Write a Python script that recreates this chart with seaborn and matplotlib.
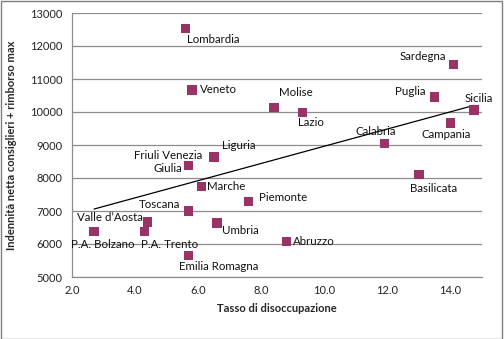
import matplotlib
matplotlib.use("Agg")
import matplotlib.pyplot as plt
import seaborn as sns
import pandas as pd
import numpy as np

regions = ["Lombardia", "Veneto", "Molise", "Lazio", "Sardegna", "Puglia", "Sicilia",
           "Campania", "Calabria", "Basilicata", "Liguria", "Friuli Venezia\nGiulia",
           "Marche", "Piemonte", "Toscana", "Valle d\u2019Aosta", "Umbria",
           "P.A. Bolzano", "P.A. Trento", "Emilia Romagna", "Abruzzo"]
disoccupazione = [5.6, 5.8, 8.4, 9.3, 14.1, 13.5, 14.75,
                  14.0, 11.9, 13.0, 6.5, 5.7,
                  6.1, 7.6, 5.7, 4.4, 6.6,
                  2.7, 4.3, 5.7, 8.8]
indennita = [12530, 10670, 10140, 9990, 11430, 10450, 10060,
             9670, 9050, 8115, 8640, 8370,
             7750, 7285, 7000, 6665, 6635,
             6380, 6380, 5660, 6080]
x_ticks = [2.0, 4.0, 6.0, 8.0, 10.0, 12.0, 14.0]
y_ticks = [5000, 6000, 7000, 8000, 9000, 10000, 11000, 12000, 13000]

# label offsets in pixels (dx, dy up), alignment
label_style = {
    "Lombardia": (1, -11, "left"),
    "Veneto": (8, 0, "left"),
    "Molise": (5, 15, "left"),
    "Lazio": (-4, -10, "left"),
    "Sardegna": (-8, 8, "right"),
    "Puglia": (-9, 6, "right"),
    "Sicilia": (-10, 12, "left"),
    "Campania": (-4, -12, "center"),
    "Calabria": (-8, 12, "center"),
    "Basilicata": (-9, -14, "left"),
    "Liguria": (8, 11, "left"),
    "Friuli Venezia\nGiulia": (-21, 4, "center"),
    "Marche": (6, 0, "left"),
    "Piemonte": (10, 4, "left"),
    "Toscana": (-9, 7, "right"),
    "Valle d\u2019Aosta": (-5, 5, "right"),
    "Umbria": (5, -7, "left"),
    "P.A. Bolzano": (9, -13, "center"),
    "P.A. Trento": (-4, -13, "left"),
    "Emilia Romagna": (-10, -11, "left"),
    "Abruzzo": (7, 0, "left"),
}

df = pd.DataFrame({"region": regions, "x": disoccupazione, "y": indennita})

sns.set_theme(style="white")
plt.rcParams["font.family"] = ["Lato", "DejaVu Sans"]

W, H = 504, 339
fig = plt.figure(figsize=(W / 100, H / 100), dpi=100)
ax = fig.add_axes([72 / W, (H - 277) / H, 410 / W, 264 / H])

sns.regplot(data=df, x="x", y="y", ax=ax, scatter=False, ci=None, truncate=True,
            line_kws=dict(color="black", lw=0.9, zorder=2))
sns.scatterplot(data=df, x="x", y="y", ax=ax, marker="s", s=45, color="#993366",
                edgecolor="none", linewidth=0, zorder=3)

for r, xv, yv in zip(regions, disoccupazione, indennita):
    dx, dy, ha = label_style[r]
    ax.annotate(r, (xv, yv), xytext=(dx, dy), textcoords="offset pixels",
                ha=ha, va="center", fontsize=8.3, color="#111111",
                multialignment="center", zorder=4)

ax.set_xlim(2.0, 15.0)
ax.set_ylim(5000, 13000)
ax.set_xticks(x_ticks)
ax.set_xticklabels([f"{t:.1f}" for t in x_ticks])
ax.set_yticks(y_ticks)
ax.set_yticklabels([str(t) for t in y_ticks])
ax.tick_params(axis="both", labelsize=8, colors="#222222", length=0, pad=6)
ax.tick_params(axis="y", length=4, color="#888888", direction="out", pad=3)
ax.grid(axis="y", color="#8c8c8c", lw=0.9)
ax.set_axisbelow(True)
for s in ["top", "right"]:
    ax.spines[s].set_visible(False)
for s in ["left", "bottom"]:
    ax.spines[s].set_color("#8c8c8c")
    ax.spines[s].set_linewidth(0.9)

ax.set_xlabel("Tasso di disoccupazione", fontsize=8, fontweight="bold", labelpad=5)
ax.set_ylabel("Indennità netta consiglieri + rimborso max", fontsize=8,
              fontweight="bold", labelpad=9)

fig.patches.append(plt.Rectangle((0.5 / W, 0.5 / H), 1 - 2.5 / W, 1 - 1.5 / H,
                                 transform=fig.transFigure, fill=False,
                                 edgecolor="#7f7f7f", lw=1))

fig.savefig("out.png", dpi=100)
